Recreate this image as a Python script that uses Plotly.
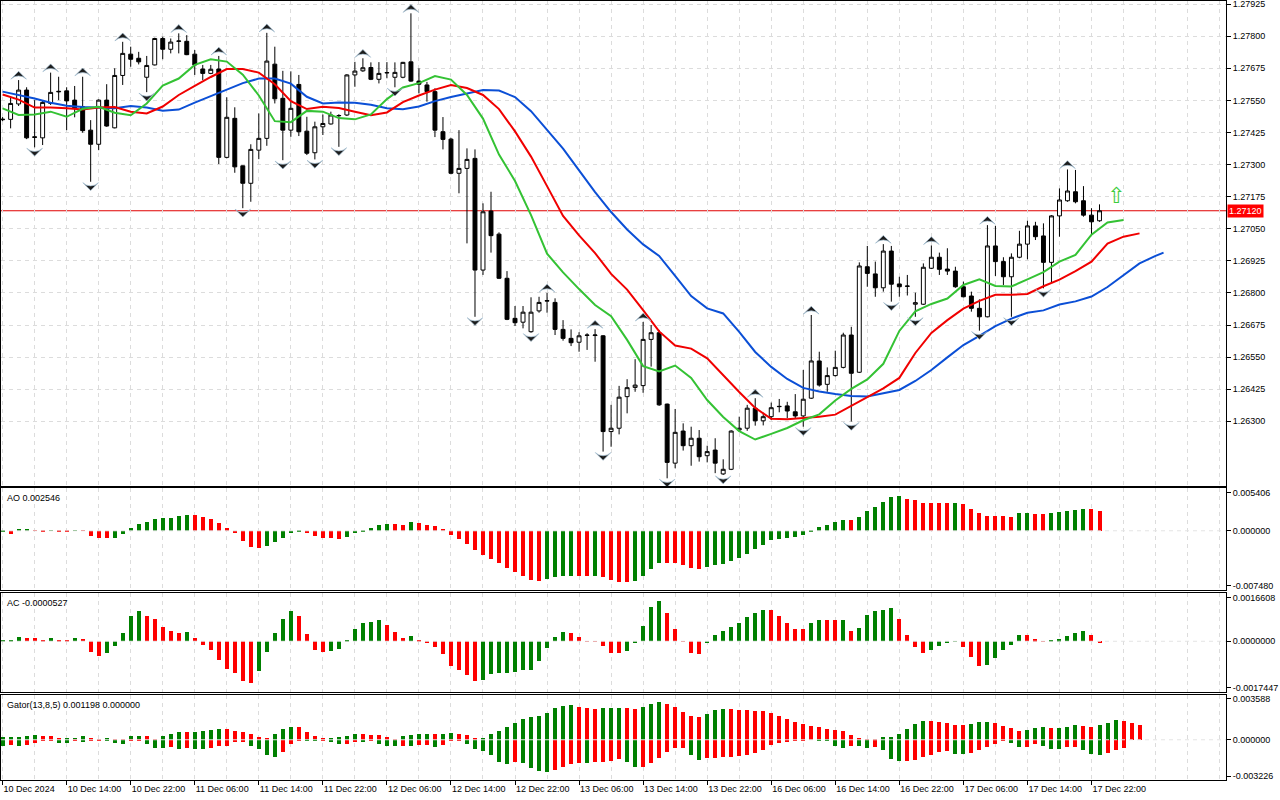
import plotly.graph_objects as go

# GBPUSD H1, 10 Dec 2024 06:00 - 17 Dec 2024 23:00
open_ = [1.27477, 1.27476, 1.27536, 1.27590, 1.27408, 1.27404, 1.27538, 1.27583, 1.27587, 1.27551,
         1.27525, 1.27434, 1.27379, 1.27551, 1.27443, 1.27647, 1.27730, 1.27714, 1.27640, 1.27688,
         1.27791, 1.27749, 1.27780, 1.27780, 1.27730, 1.27672, 1.27655, 1.27672, 1.27328, 1.27480,
         1.27295, 1.27227, 1.27356, 1.27402, 1.27691, 1.27558, 1.27434, 1.27612, 1.27430, 1.27346,
         1.27447, 1.27458, 1.27490, 1.27493, 1.27649, 1.27665, 1.27678, 1.27632, 1.27657, 1.27640,
         1.27640, 1.27700, 1.27625, 1.27610, 1.27584, 1.27428, 1.27399, 1.27266, 1.27285, 1.27324,
         1.26889, 1.27119, 1.27029, 1.26857, 1.26701, 1.26686, 1.26649, 1.26730, 1.26768, 1.26763,
         1.26658, 1.26623, 1.26608, 1.26636, 1.26634, 1.26633, 1.26260, 1.26273, 1.26396, 1.26432,
         1.26439, 1.26619, 1.26645, 1.26367, 1.26137, 1.26262, 1.26205, 1.26234, 1.26166, 1.26188,
         1.26095, 1.26113, 1.26266, 1.26273, 1.26351, 1.26302, 1.26318, 1.26357, 1.26360, 1.26337,
         1.26321, 1.26390, 1.26535, 1.26444, 1.26478, 1.26510, 1.26636, 1.26491, 1.26902, 1.26874,
         1.26820, 1.26963, 1.26835, 1.26827, 1.26756, 1.26756, 1.26896, 1.26939, 1.26893, 1.26885,
         1.26824, 1.26788, 1.26740, 1.26707, 1.26983, 1.26922, 1.26863, 1.26939, 1.26990, 1.27061,
         1.27022, 1.26919, 1.27100, 1.27159, 1.27194, 1.27159, 1.27103, 1.27081]
high = [1.27485, 1.27564, 1.27629, 1.27601, 1.27551, 1.27551, 1.27658, 1.27642, 1.27601, 1.27606,
        1.27642, 1.27473, 1.27554, 1.27613, 1.27675, 1.27778, 1.27759, 1.27739, 1.27723, 1.27794,
        1.27798, 1.27791, 1.27811, 1.27804, 1.27746, 1.27688, 1.27688, 1.27723, 1.27562, 1.27523,
        1.27296, 1.27379, 1.27499, 1.27813, 1.27759, 1.27665, 1.27663, 1.27649, 1.27486, 1.27467,
        1.27495, 1.27506, 1.27496, 1.27652, 1.27700, 1.27714, 1.27698, 1.27699, 1.27699, 1.27698,
        1.27700, 1.27889, 1.27675, 1.27622, 1.27597, 1.27485, 1.27404, 1.27434, 1.27363, 1.27359,
        1.27149, 1.27194, 1.27036, 1.26885, 1.26749, 1.26749, 1.26783, 1.26785, 1.26800, 1.26779,
        1.26694, 1.26658, 1.26647, 1.26643, 1.26659, 1.26636, 1.26364, 1.26438, 1.26464, 1.26542,
        1.26687, 1.26675, 1.26656, 1.26369, 1.26348, 1.26292, 1.26279, 1.26266, 1.26205, 1.26234,
        1.26152, 1.26265, 1.26318, 1.26364, 1.26390, 1.26333, 1.26373, 1.26387, 1.26376, 1.26406,
        1.26500, 1.26714, 1.26571, 1.26510, 1.26575, 1.26645, 1.26668, 1.26919, 1.26983, 1.26922,
        1.26990, 1.26983, 1.26863, 1.26870, 1.26801, 1.26915, 1.26985, 1.26957, 1.26974, 1.26902,
        1.26844, 1.26805, 1.26775, 1.27064, 1.27061, 1.26939, 1.26954, 1.27042, 1.27081, 1.27077,
        1.27071, 1.27103, 1.27207, 1.27281, 1.27279, 1.27216, 1.27130, 1.27145]
low = [1.27469, 1.27441, 1.27528, 1.27399, 1.27367, 1.27376, 1.27532, 1.27551, 1.27434, 1.27484,
       1.27424, 1.27233, 1.27356, 1.27447, 1.27441, 1.27610, 1.27681, 1.27690, 1.27582, 1.27686,
       1.27710, 1.27733, 1.27733, 1.27726, 1.27649, 1.27629, 1.27652, 1.27302, 1.27324, 1.27268,
       1.27130, 1.27155, 1.27321, 1.27373, 1.27538, 1.27317, 1.27408, 1.27411, 1.27337, 1.27320,
       1.27415, 1.27456, 1.27369, 1.27489, 1.27603, 1.27661, 1.27629, 1.27616, 1.27636, 1.27601,
       1.27636, 1.27622, 1.27577, 1.27545, 1.27407, 1.27359, 1.27262, 1.27188, 1.26993, 1.26707,
       1.26870, 1.26957, 1.26854, 1.26694, 1.26671, 1.26662, 1.26645, 1.26723, 1.26723, 1.26636,
       1.26614, 1.26593, 1.26571, 1.26578, 1.26532, 1.26182, 1.26201, 1.26249, 1.26331, 1.26415,
       1.26411, 1.26513, 1.26360, 1.26078, 1.26117, 1.26186, 1.26127, 1.26143, 1.26140, 1.26098,
       1.26091, 1.26110, 1.26260, 1.26263, 1.26283, 1.26284, 1.26305, 1.26335, 1.26312, 1.26311,
       1.26279, 1.26387, 1.26435, 1.26415, 1.26474, 1.26506, 1.26299, 1.26488, 1.26824, 1.26785,
       1.26805, 1.26766, 1.26785, 1.26790, 1.26707, 1.26753, 1.26893, 1.26870, 1.26870, 1.26820,
       1.26783, 1.26727, 1.26653, 1.26705, 1.26866, 1.26831, 1.26707, 1.26935, 1.26931, 1.27006,
       1.26818, 1.26840, 1.27019, 1.27155, 1.27149, 1.27097, 1.27026, 1.27077]
close = [1.27475, 1.27538, 1.27590, 1.27404, 1.27406, 1.27542, 1.27581, 1.27585, 1.27548, 1.27521,
         1.27432, 1.27379, 1.27551, 1.27450, 1.27647, 1.27733, 1.27710, 1.27700, 1.27686, 1.27791,
         1.27749, 1.27777, 1.27781, 1.27728, 1.27688, 1.27655, 1.27671, 1.27328, 1.27484, 1.27291,
         1.27227, 1.27359, 1.27402, 1.27703, 1.27556, 1.27434, 1.27519, 1.27428, 1.27344, 1.27447,
         1.27460, 1.27493, 1.27491, 1.27649, 1.27664, 1.27677, 1.27632, 1.27655, 1.27658, 1.27659,
         1.27698, 1.27625, 1.27613, 1.27584, 1.27434, 1.27398, 1.27266, 1.27285, 1.27320, 1.26889,
         1.27116, 1.27023, 1.26857, 1.26697, 1.26684, 1.26725, 1.26725, 1.26763, 1.26770, 1.26658,
         1.26623, 1.26606, 1.26633, 1.26635, 1.26636, 1.26260, 1.26273, 1.26394, 1.26431, 1.26441,
         1.26619, 1.26645, 1.26364, 1.26140, 1.26257, 1.26205, 1.26234, 1.26162, 1.26182, 1.26137,
         1.26113, 1.26262, 1.26273, 1.26351, 1.26302, 1.26318, 1.26353, 1.26358, 1.26340, 1.26321,
         1.26386, 1.26535, 1.26441, 1.26478, 1.26510, 1.26636, 1.26487, 1.26905, 1.26876, 1.26820,
         1.26963, 1.26834, 1.26824, 1.26826, 1.26762, 1.26900, 1.26939, 1.26892, 1.26885, 1.26824,
         1.26785, 1.26740, 1.26707, 1.26983, 1.26922, 1.26863, 1.26939, 1.26990, 1.27061, 1.27019,
         1.26919, 1.27100, 1.27162, 1.27197, 1.27155, 1.27103, 1.27077, 1.27120]

time_labels = ["10 Dec 2024", "10 Dec 14:00", "10 Dec 22:00", "11 Dec 06:00", "11 Dec 14:00",
               "11 Dec 22:00", "12 Dec 06:00", "12 Dec 14:00", "12 Dec 22:00", "13 Dec 06:00",
               "13 Dec 14:00", "13 Dec 22:00", "16 Dec 06:00", "16 Dec 14:00", "16 Dec 22:00",
               "17 Dec 06:00", "17 Dec 14:00", "17 Dec 22:00"]

# Alligator (13,8,5 / shift 8,5,3), read every second bar
jaw = [1.27584, 1.27571, 1.27557, 1.27541, 1.27529, 1.27524, 1.27522, 1.27519, 1.27528, 1.27522,
       1.27510, 1.27514, 1.27541, 1.27567, 1.27592, 1.27617, 1.27635, 1.27635, 1.27615, 1.27564,
       1.27538, 1.27542, 1.27541, 1.27533, 1.27519, 1.27515, 1.27526, 1.27547, 1.27563, 1.27578,
       1.27590, 1.27588, 1.27563, 1.27508, 1.27436, 1.27362, 1.27277, 1.27193, 1.27115, 1.27047,
       1.26989, 1.26944, 1.26866, 1.26788, 1.26740, 1.26720, 1.26648, 1.26570, 1.26512, 1.26465,
       1.26430, 1.26416, 1.26406, 1.26399, 1.26397, 1.26410, 1.26422, 1.26457, 1.26500, 1.26549,
       1.26597, 1.26633, 1.26671, 1.26700, 1.26723, 1.26732, 1.26755, 1.26767, 1.26786, 1.26823,
       1.26870, 1.26915, 1.26944, 1.26957]
teeth = [1.27573, 1.27553, 1.27522, 1.27522, 1.27519, 1.27514, 1.27522, 1.27524, 1.27506, 1.27499,
         1.27526, 1.27571, 1.27606, 1.27641, 1.27672, 1.27672, 1.27658, 1.27613, 1.27547, 1.27516,
         1.27525, 1.27520, 1.27506, 1.27492, 1.27503, 1.27543, 1.27569, 1.27592, 1.27610, 1.27598,
         1.27571, 1.27516, 1.27429, 1.27331, 1.27216, 1.27100, 1.27024, 1.26955, 1.26874, 1.26813,
         1.26733, 1.26650, 1.26595, 1.26583, 1.26545, 1.26478, 1.26414, 1.26352, 1.26310, 1.26308,
         1.26312, 1.26318, 1.26326, 1.26360, 1.26394, 1.26428, 1.26469, 1.26566, 1.26644, 1.26694,
         1.26739, 1.26769, 1.26793, 1.26793, 1.26796, 1.26826, 1.26852, 1.26885, 1.26922, 1.26992,
         1.27019, 1.27032]
lips = [1.27519, 1.27493, 1.27495, 1.27506, 1.27486, 1.27517, 1.27525, 1.27502, 1.27492, 1.27538,
        1.27608, 1.27635, 1.27688, 1.27710, 1.27701, 1.27650, 1.27569, 1.27469, 1.27465, 1.27509,
        1.27506, 1.27481, 1.27476, 1.27495, 1.27555, 1.27600, 1.27617, 1.27645, 1.27631, 1.27571,
        1.27479, 1.27339, 1.27236, 1.27103, 1.26953, 1.26880, 1.26815, 1.26753, 1.26709, 1.26617,
        1.26515, 1.26494, 1.26517, 1.26469, 1.26383, 1.26317, 1.26262, 1.26229, 1.26251, 1.26274,
        1.26304, 1.26327, 1.26381, 1.26426, 1.26463, 1.26524, 1.26652, 1.26728, 1.26757, 1.26778,
        1.26831, 1.26853, 1.26827, 1.26825, 1.26853, 1.26881, 1.26922, 1.26948, 1.27027, 1.27074,
        1.27084]

# oscillators, in points (1 point = 0.00001)
ao_pts = [-21, -43, 13, 14, 9, -21, 9, -9, -17, 4,
          2, -60, -85, -86, -85, -43, 30, 81, 111, 145,
          157, 158, 183, 196, 195, 174, 145, 94, 30, -30,
          -123, -200, -213, -187, -145, -85, -30, -4, -30, -72,
          -85, -86, -106, -81, -26, -4, 30, 68, 81, 80,
          79, 106, 94, 78, 60, 21, -47, -98, -162, -238,
          -306, -353, -408, -468, -519, -570, -617, -634, -604, -578,
          -572, -570, -571, -572, -568, -587, -621, -646, -651, -629,
          -570, -481, -404, -408, -413, -430, -468, -481, -455, -430,
          -417, -387, -340, -289, -234, -174, -119, -98, -85, -77,
          -47, -6, 43, 77, 106, 140, 139, 179, 255, 306,
          362, 421, 434, 404, 383, 357, 356, 355, 354, 356,
          336, 281, 230, 191, 190, 189, 179, 221, 222, 208,
          207, 221, 234, 247, 264, 281, 280, 254.6]
ac_pts = [1, 2, 14.8, 12.5, 11.4, 2.3, 11.4, 4.5, 2.3, 11.4,
          7.9, -35.2, -52.2, -38.6, -14.8, 28.4, 86.3, 103.3, 86.3, 78.3,
          48.8, 35.2, 29.5, 31.8, 11.4, -11.4, -28.4, -65.8, -96.5, -110.1,
          -137.3, -144.1, -103.3, -35.2, 28.4, 78.3, 103.3, 86.3, 25, -28.4,
          -35.2, -31.8, -25, 4.5, 42, 63.6, 67, 72.6, 55.6, 31.8,
          11.4, 18.2, 2.3, -4.5, -18.2, -45.4, -86.3, -99.9, -116.9, -137.3,
          -133.9, -113.5, -110.1, -109.5, -106.7, -99.9, -99.5, -69.2, -22.7, 14.8,
          31.8, 28.4, 14.8, -1.1, -1.3, -14.8, -38.6, -38.8, -31.8, -3.4,
          52.2, 116.9, 137.3, 96.5, 42, -1.1, -38.6, -45.4, -4.5, 21.6,
          35.2, 48.8, 62.4, 82.9, 96.5, 106.7, 106.5, 86.3, 62.4, 42,
          41.8, 62.4, 72.6, 72.4, 72.2, 72.8, 35.2, 44.3, 89.7, 105.6,
          109, 115.8, 78.3, 20.4, -19.3, -39.7, -29.5, -15.9, -5.7, -2.3,
          -19.3, -53.3, -84, -80.6, -56.8, -29.5, -12.5, 20.4, 20.2, 6.8,
          -2.3, 2.3, 6.8, 17, 27.2, 34, 20.4, -5.27]
gator_upper_pts = [18.9, 21.6, 23.0, 27.1, 35.2, 27.1, 26.5, 8.1, 9.5, 10.8,
                   27.1, 10.8, 2.7, 8.1, 0.8, 0.5, 27.1, 28.4, 27.6, 1.4,
                   27.1, 46.0, 59.5, 59.0, 60.9, 67.6, 75.7, 83.9, 83.3, 67.6,
                   59.5, 43.3, 18.9, 13.5, 43.3, 83.9, 100.1, 99.5, 59.5, 27.1,
                   10.8, 13.5, 18.9, 29.8, 43.3, 42.7, 37.9, 35.2, 18.9, 1.4,
                   27.1, 35.2, 43.3, 44.1, 43.6, 44.4, 51.4, 43.3, 35.2, 10.8,
                   11.6, 43.3, 67.6, 100.1, 132.5, 165.0, 181.2, 189.4, 213.7, 254.3,
                   270.5, 278.6, 262.4, 254.3, 246.2, 254.3, 255.1, 255.6, 254.8, 246.2,
                   262.4, 286.7, 303.0, 286.7, 262.4, 221.8, 189.4, 181.2, 205.6, 238.0,
                   246.2, 245.6, 238.0, 237.5, 229.9, 229.4, 213.7, 189.4, 165.0, 140.7,
                   124.4, 108.2, 100.1, 83.9, 75.7, 67.6, 35.2, 10.8, 1.4, 0.8,
                   18.9, 19.7, 43.3, 83.9, 124.4, 148.8, 148.2, 140.7, 132.5, 116.3,
                   115.8, 124.4, 140.7, 141.5, 132.5, 108.2, 92.0, 67.6, 75.7, 92.0,
                   100.1, 92.0, 92.8, 100.1, 116.3, 108.2, 100.1, 116.3, 132.5, 156.9,
                   148.8, 132.5, 119.8]
gator_lower_pts = [-46.0, -45.4, -51.4, -43.3, -24.3, -2.7, -2.2, -27.1, -27.9, -5.4,
                   -16.2, -2.7, -2.2, -5.4, -27.1, -35.2, -5.4, -4.9, -35.2, -67.6,
                   -68.4, -59.5, -75.7, -67.6, -75.7, -76.6, -67.6, -51.4, -50.9, -16.2,
                   -15.7, -51.4, -75.7, -121.7, -140.7, -100.1, -35.2, -5.4, -6.0, -13.5,
                   -2.7, -18.9, -35.2, -34.6, -18.9, -19.5, -2.7, -35.2, -51.4, -51.9,
                   -51.4, -52.2, -43.3, -42.7, -59.5, -43.3, -10.8, -5.4, -35.2, -75.7,
                   -92.0, -124.4, -175.8, -197.5, -181.2, -189.4, -229.9, -254.3, -262.4, -246.2,
                   -221.8, -197.5, -189.4, -190.2, -181.2, -180.7, -173.1, -156.9, -181.2, -221.8,
                   -221.3, -189.4, -148.8, -100.1, -67.6, -67.1, -124.4, -165.0, -148.8, -148.2,
                   -140.7, -140.1, -132.5, -124.4, -108.2, -78.4, -43.3, -27.1, -18.9, -10.8,
                   -2.7, -1.4, -5.4, -10.8, -51.4, -67.6, -51.4, -52.2, -67.6, -59.5,
                   -83.9, -156.9, -173.1, -172.6, -165.0, -140.7, -124.4, -100.1, -92.0, -116.3,
                   -117.1, -108.2, -83.9, -59.5, -35.2, -10.8, -27.1, -59.5, -59.0, -35.2,
                   -51.4, -75.7, -76.6, -59.5, -59.0, -83.9, -116.3, -124.4, -108.2, -83.9,
                   -67.6, 0, 0]

fractal_up = [2, 6, 10, 15, 22, 27, 33, 45, 51, 68, 74, 80, 94, 101, 110, 116, 123, 133]
fractal_down = [4, 11, 18, 30, 35, 39, 42, 49, 59, 66, 75, 83, 90, 100, 106, 111, 114, 122, 126, 130]

last_price = 1.27120
price_ticks = [1.27925 - 0.00125 * k for k in range(14)]

GREEN, RED = "#008000", "#ff0000"
GRID = "#dcdcdc"
FONT = "Liberation Sans"
TICK_FONT = dict(size=9, color="black", family=FONT)


def trend_colors(vals, by_abs=False):
    out = [GREEN]
    for a, b in zip(vals[:-1], vals[1:]):
        if by_abs:
            a, b = abs(a), abs(b)
        out.append(GREEN if b > a else RED)
    return out


n_bars = len(close)
bars = list(range(n_bars))
pt = 1e-5
ao = [v * pt for v in ao_pts]
ac = [v * pt for v in ac_pts]
g_up = [v * pt for v in gator_upper_pts]
g_dn = [v * pt for v in gator_lower_pts]
g_x = list(range(len(g_up)))

fig = go.Figure()

fig.add_trace(go.Candlestick(
    x=bars, open=open_, high=high, low=low, close=close,
    increasing=dict(line=dict(color="black", width=1), fillcolor="white"),
    decreasing=dict(line=dict(color="black", width=1), fillcolor="black"),
    whiskerwidth=0, showlegend=False, hoverinfo="skip"
))

jaw_x = list(range(0, 146, 2)) + [145]
teeth_x = list(range(0, 143, 2))
lips_x = list(range(0, 141, 2))
for xs, ys, col in [(jaw_x, jaw, "#0b4fd6"), (teeth_x, teeth, "#f00000"), (lips_x, lips, "#34c234")]:
    fig.add_trace(go.Scatter(x=xs, y=ys, mode="lines", line=dict(color=col, width=2),
                             showlegend=False, hoverinfo="skip"))

# fractal arrows sit a few pixels beyond the bar extremes
off = 0.00034
fractal_marker = dict(symbol="arrow-wide", size=11, color="#1c1c1c",
                      line=dict(color="#9bb8cc", width=0.7))
fig.add_trace(go.Scatter(
    x=fractal_up, y=[high[i] + off for i in fractal_up], mode="markers",
    marker=dict(fractal_marker, angle=0), showlegend=False, hoverinfo="skip"))
fig.add_trace(go.Scatter(
    x=fractal_down, y=[low[i] - off for i in fractal_down], mode="markers",
    marker=dict(fractal_marker, angle=180), showlegend=False, hoverinfo="skip"))

fig.add_trace(go.Bar(x=bars, y=ao, marker=dict(color=trend_colors(ao), line=dict(width=0)),
                     width=0.5, xaxis="x2", yaxis="y2", showlegend=False, hoverinfo="skip"))
fig.add_trace(go.Bar(x=bars, y=ac, marker=dict(color=trend_colors(ac), line=dict(width=0)),
                     width=0.5, xaxis="x3", yaxis="y3", showlegend=False, hoverinfo="skip"))
fig.add_trace(go.Bar(x=g_x, y=g_up, marker=dict(color=trend_colors(g_up, True), line=dict(width=0)),
                     width=0.5, xaxis="x4", yaxis="y4", showlegend=False, hoverinfo="skip"))
fig.add_trace(go.Bar(x=g_x, y=g_dn, marker=dict(color=trend_colors(g_dn, True), line=dict(width=0)),
                     width=0.5, xaxis="x4", yaxis="y4", showlegend=False, hoverinfo="skip"))

x_range = [-0.2, 152.8]
label_vals = list(range(0, n_bars, 8))


def x_axis(anchor, show_labels):
    d = dict(
        anchor=anchor, range=x_range, showline=True, mirror=True, linecolor="black", linewidth=1,
        zeroline=False, showgrid=True, gridcolor=GRID, griddash="4px,4px", gridwidth=1,
        tickvals=label_vals, ticktext=time_labels if show_labels else [""] * len(label_vals),
        ticks="outside" if show_labels else "", ticklen=4, tickcolor="black",
        showticklabels=show_labels, tickangle=0,
        minor=dict(dtick=4, tick0=0, showgrid=True, gridcolor=GRID, griddash="4px,4px", ticks=""),
        rangeslider=dict(visible=False), fixedrange=True,
    )
    if show_labels:
        d["ticklabelposition"] = "outside right"
        d["ticklabeloverflow"] = "allow"
        d["tickfont"] = TICK_FONT
    return d


def edge_axis(domain, anchor, lo, hi, decimals):
    pad = 0.045 * (hi - lo)
    return dict(
        domain=domain, anchor=anchor, range=[lo, hi], side="right",
        showline=True, mirror=True, linecolor="black", linewidth=1, zeroline=False, showgrid=False,
        tickvals=[hi - pad, 0, lo + pad],
        ticktext=[f"{hi:.{decimals}f}", f"{0:.{decimals}f}", f"{lo:.{decimals}f}"],
        ticks="outside", ticklen=4, tickcolor="black", ticklabeloverflow="allow",
        tickfont=TICK_FONT, fixedrange=True,
    )


H = 779.0


def dom(top, bot):
    return [max(0.0, (780 - bot) / H), (780 - top) / H]


fig.update_layout(
    template="none",
    width=1280, height=800,
    margin=dict(l=1, r=54, t=1, b=20),
    paper_bgcolor="white", plot_bgcolor="white",
    font=dict(family=FONT, size=9, color="black"),
    barmode="overlay", bargap=0,
    xaxis=x_axis("y", False),
    xaxis2=x_axis("y2", False),
    xaxis3=x_axis("y3", False),
    xaxis4=x_axis("y4", True),
    yaxis=dict(
        domain=dom(1, 486), anchor="x", range=[1.26048, 1.27937], side="right",
        showline=True, mirror=True, linecolor="black", linewidth=1, zeroline=False,
        showgrid=True, gridcolor=GRID, griddash="4px,4px",
        tickvals=price_ticks, ticktext=[f"{v:.5f}" for v in price_ticks],
        ticks="outside", ticklen=4, tickcolor="black", ticklabeloverflow="allow",
        tickfont=TICK_FONT, fixedrange=True,
    ),
    yaxis2=edge_axis(dom(488, 590), "x2", -0.00748, 0.005406, 6),
    yaxis3=edge_axis(dom(593, 692), "x3", -0.0017447, 0.0016608, 7),
    yaxis4=edge_axis(dom(695, 780), "x4", -0.003226, 0.003588, 6),
    showlegend=False,
)
fig.update_xaxes(matches="x")

# current price line and tag
fig.add_shape(type="line", xref="x domain", x0=0, x1=1, yref="y", y0=last_price, y1=last_price,
              line=dict(color="#e00000", width=1), layer="below")
fig.add_annotation(x=1, xref="paper", xanchor="left", xshift=1, y=last_price, yref="y",
                   text=f"{last_price:.5f}", showarrow=False, bgcolor="#ff0000",
                   font=dict(color="white", size=9, family=FONT), borderpad=1)

# zero lines in the indicator windows
for ax in ["x2", "x3", "x4"]:
    yref = "y" + ax[1:]
    fig.add_shape(type="line", xref=f"{ax} domain", x0=0, x1=1, yref=yref, y0=0, y1=0,
                  line=dict(color="#e4e4e4", width=1, dash="4px,4px"), layer="above")

# indicator captions
for text, top in [(f"AO {ao[-1]:.6f}", dom(488, 590)[1]),
                  (f"AC {ac[-1]:.7f}", dom(593, 692)[1]),
                  (f"Gator(13,8,5) {0.001198:.6f} {0:.6f}", dom(695, 780)[1])]:
    fig.add_annotation(x=0, xref="paper", xanchor="left", xshift=4, y=top, yref="paper",
                       yanchor="top", yshift=-3, text=text, showarrow=False,
                       font=dict(size=9, color="black", family=FONT))

# buy signal arrow
fig.add_annotation(x=139, y=1.27181, xref="x", yref="y", text="⇧", showarrow=False,
                   font=dict(size=22, color="#3ccc3c", family="DejaVu Sans"))

# the page is photographed from its top-left corner, so drop the default body margin
fig.write_html("out.html", config={"displayModeBar": False},
               post_script="document.body.style.margin = '0';")
